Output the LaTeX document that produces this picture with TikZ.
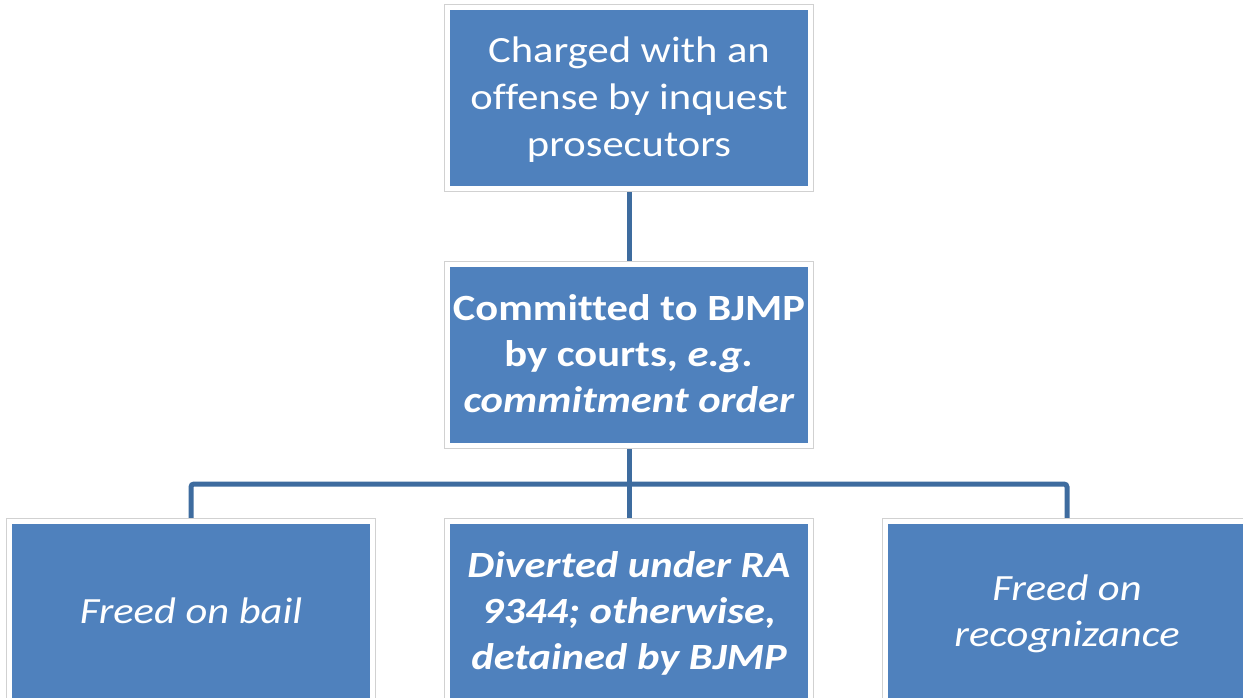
\documentclass[tikz,border=0pt]{standalone}
\usepackage{fontspec}
\setmainfont{Carlito}[Ligatures=CommonOff]
\usepackage{graphicx}
\usepackage{tikz}
\usetikzlibrary{backgrounds}
\definecolor{boxblue}{HTML}{4F81BD}
\definecolor{linkblue}{HTML}{3E6C9F}
\newcommand\widetext[1]{\raisebox{-2.5pt}[\height][\depth]{\scalebox{1.15}[1]{\begin{tabular}{@{}c@{}}#1\end{tabular}}}}

\begin{document}
\begin{tikzpicture}[x=1pt,y=-1pt,
  box/.style={rectangle,fill=boxblue,draw=white,line width=5pt,
    preaction={draw=black!18,line width=7pt},
    minimum width=363pt,minimum height=181pt,inner sep=0pt,
    text=white,font=\fontsize{37}{47}\selectfont},
  link/.style={draw=linkblue,line width=5pt,rounded corners=3pt}]
\useasboundingbox (0,0) rectangle (1243,698);

\node[box] (charged) at (629,98) {\widetext{Charged with an\\offense by inquest\\prosecutors}};
\node[box,font=\fontsize{37}{46}\selectfont\bfseries] (committed) at (629,355) {\widetext{Committed to BJMP\\by courts, \textit{e.g.}\\\textit{commitment order}}};
\coordinate (split) at (629,484);
\node[box,font=\fontsize{37}{46}\selectfont\bfseries\itshape] (diverted) at (629,612) {\widetext{Diverted under RA\\9344; otherwise,\\detained by BJMP}};
\node[box,font=\fontsize{37}{46}\selectfont\itshape] (bail) at (191,612) {\widetext{Freed on bail}};
\node[box,font=\fontsize{37}{46}\selectfont\itshape] (recog) at (1067,612) {\widetext{Freed on\\recognizance}};

\begin{scope}[on background layer]
\fill[white] (0,0) rectangle (1243,698);
\draw[link] (charged) -- (committed);
\draw[link] (committed) -- (split);
\draw[link] (split) -- (diverted);
\draw[link] (split) -| (bail);
\draw[link] (split) -| (recog);
\end{scope}
\end{tikzpicture}
\end{document}
